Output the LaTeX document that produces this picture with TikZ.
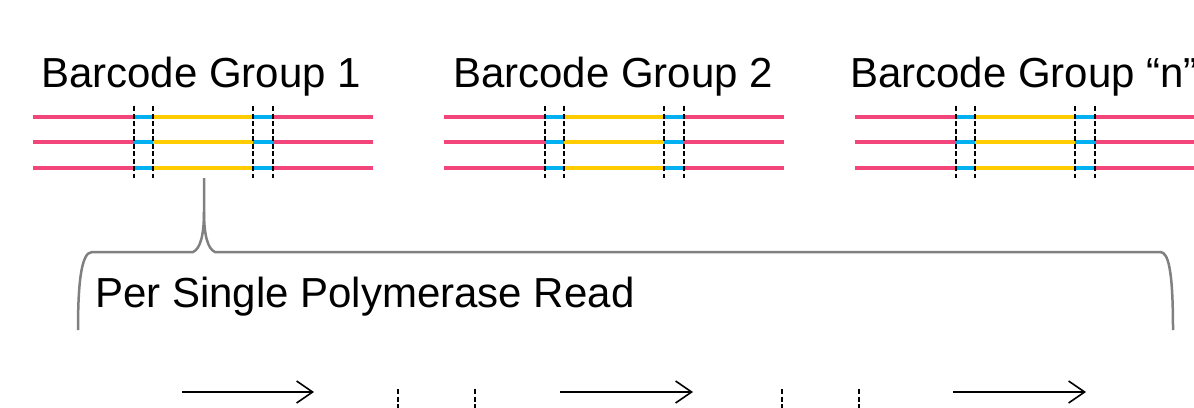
\documentclass[tikz,border=0pt]{standalone}
\usepackage{fontspec}
\setmainfont{Liberation Sans}
\usetikzlibrary{arrows.meta}
\definecolor{rpink}{RGB}{242,70,122}
\definecolor{rblue}{RGB}{0,176,240}
\definecolor{ryellow}{RGB}{255,204,0}
\definecolor{bracegray}{RGB}{128,128,128}
\begin{document}
\begin{tikzpicture}[x=1pt,y=-1pt,
  seg/.style={line width=4pt},
  sep/.style={black, line width=1.3pt, dash pattern=on 5pt off 2.5pt},
  title/.style={anchor=base west, inner sep=0pt, font=\fontsize{42}{50}\selectfont},
  brace/.style={bracegray, line width=2.5pt, line join=round},
  arr/.style={line width=1.6pt, -{Straight Barb[length=16pt,width=22pt]}}]
\useasboundingbox (0,0) rectangle (1194,407);
\clip (0,0) rectangle (1194,407);
% titles
\node[title] (t1) at (41,87) {Barcode Group 1};
\node[title] (t2) at (453,87) {Barcode Group 2};
\node[title] (t3) at (850,87) {Barcode Group “n”};
% read groups
\foreach \dx in {0,411,822} {
  \foreach \y in {117,142,168} {
    \draw[seg, rpink] (33+\dx,\y) -- (134+\dx,\y);
    \draw[seg, rblue] (134+\dx,\y) -- (153+\dx,\y);
    \draw[seg, ryellow] (153+\dx,\y) -- (253+\dx,\y);
    \draw[seg, rblue] (253+\dx,\y) -- (273+\dx,\y);
    \draw[seg, rpink] (273+\dx,\y) -- (373+\dx,\y);
  }
  \foreach \x in {134,153,253,273} \draw[sep] (\x+\dx,106) -- (\x+\dx,178);
}
% brace
\draw[brace] (78,330) .. controls (78,285) and (81,252) .. (92,252) -- (193,252)
  .. controls (200,249) and (204,236) .. (204,212) -- (204,178);
\draw[brace] (204,212) .. controls (204,236) and (208,249) .. (215,252) -- (1160,252)
  .. controls (1168,252) and (1173,268) .. (1173,330);
\node[title] (lbl) at (95,307) {Per Single Polymerase Read};
% bottom row
\coordinate (a1s) at (182,392); \coordinate (a1e) at (314,392);
\coordinate (a2s) at (560,392); \coordinate (a2e) at (693,392);
\coordinate (a3s) at (953,392); \coordinate (a3e) at (1086,392);
\draw[arr] (a1s) -- (a1e);
\draw[arr] (a2s) -- (a2e);
\draw[arr] (a3s) -- (a3e);
\foreach \x in {398,475,782,859} \draw[sep] (\x,389) -- (\x,410);
\end{tikzpicture}
\end{document}
